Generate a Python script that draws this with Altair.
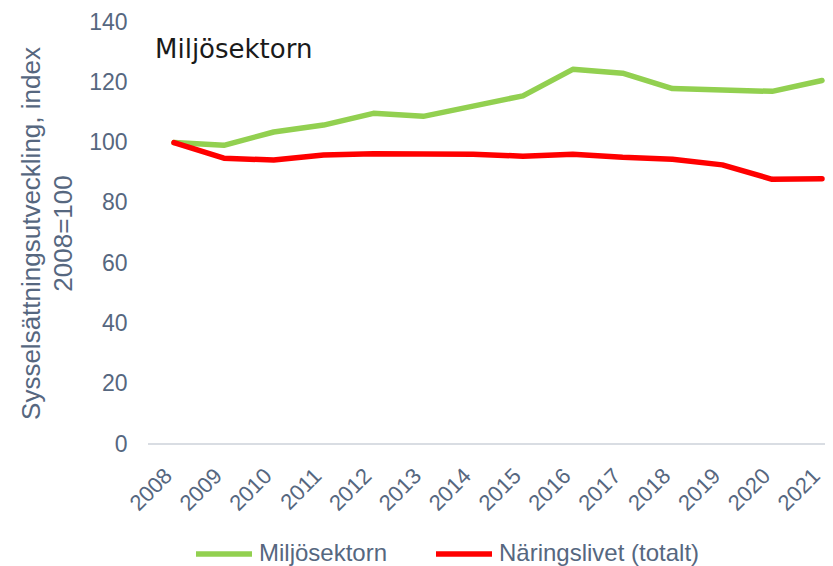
import altair as alt
import pandas as pd

years = [str(y) for y in range(2008, 2022)]
miljo = [100, 99.1, 103.5, 105.8, 109.7, 108.7, 112.1, 115.5, 124.3, 123.0, 117.9, 117.4, 117.0, 120.6]
naring = [100, 94.8, 94.2, 95.9, 96.3, 96.2, 96.1, 95.5, 96.1, 95.1, 94.5, 92.6, 87.8, 88.0]
series_names = ["Miljösektorn", "Näringslivet (totalt)"]
series_colors = ["#92d050", "#ff0000"]
y_ticks = [0, 20, 40, 60, 80, 100, 120, 140]

rows = []
for name, vals in zip(series_names, [miljo, naring]):
    for y, v in zip(years, vals):
        rows.append({"year": y, "value": v, "series": name})
df = pd.DataFrame(rows)

axis_color = "#56677f"
font = "Liberation Sans"

x_enc = alt.X("year:O", sort=years,
              scale=alt.Scale(type="point", range=[26, 674], padding=0),
              axis=alt.Axis(title=None, labelAngle=-45, labelAlign="right", labelBaseline="middle",
                            labelFontSize=22, labelColor=axis_color, labelFont=font,
                            labelPadding=28, labelOffset=-6, ticks=False,
                            domain=False, grid=False))
y_enc = alt.Y("value:Q", scale=alt.Scale(domain=[0, 140], nice=False),
              axis=alt.Axis(values=y_ticks, title=["Sysselsättningsutveckling, index", "2008=100"],
                            titleFontSize=26, titleColor=axis_color, titleFont=font,
                            titleFontWeight="normal", titleLineHeight=32, titlePadding=12,
                            labelFontSize=23, labelColor=axis_color, labelFont=font,
                            labelPadding=21, ticks=False, domain=False, grid=False))

baseline = alt.Chart(df).mark_rule(color="#d9dde3", strokeWidth=2).encode(y=alt.datum(0))

lines = alt.Chart(df).mark_line(strokeWidth=5.5, strokeCap="round", strokeJoin="round").encode(
    x=x_enc,
    y=y_enc,
    color=alt.Color("series:N", sort=series_names,
                    scale=alt.Scale(domain=series_names, range=series_colors),
                    legend=alt.Legend(title=None, orient="none", legendX=45, legendY=501,
                                      direction="horizontal",
                                      symbolType="stroke", symbolSize=3136, symbolStrokeWidth=5.5,
                                      labelFontSize=24, labelColor=axis_color, labelFont=font,
                                      labelOffset=4, columnPadding=37, labelLimit=400)),
)

chart = alt.layer(baseline, lines).properties(
    width=677, height=422,
    autosize=alt.AutoSizeParams(type="none"),
    padding={"left": 140, "top": 14, "right": 0, "bottom": 122},
    title=alt.TitleParams("Miljösektorn", anchor="start", frame="group", orient="top",
                          baseline="alphabetic", offset=0, dx=7, dy=73,
                          fontSize=26, font="DejaVu Sans", fontWeight="normal", color="#1a1a1a"),
).configure_view(stroke=None)

chart.save("out.html", embed_options={"renderer": "svg", "actions": False})
